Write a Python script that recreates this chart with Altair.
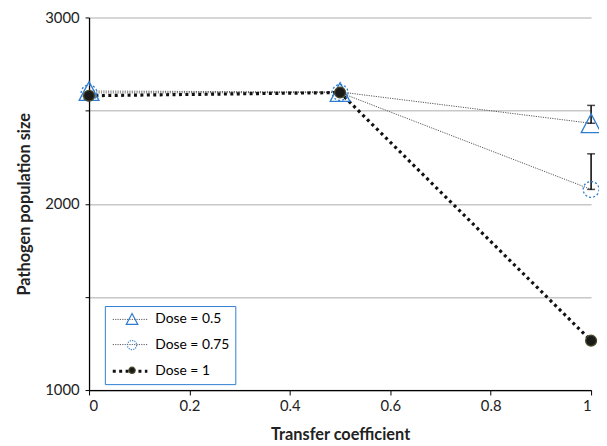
import math
import altair as alt
import pandas as pd

# ---- data ----
transfer = [0, 0.5, 1]
dose_labels = ["Dose = 0.5", "Dose = 0.75", "Dose = 1"]
dose_05 = [2605, 2600, 2432]
dose_075 = [2595, 2597, 2077]
dose_1 = [2580, 2597, 1265]
err_x = [1, 1]
err_dose = ["Dose = 0.5", "Dose = 0.75"]
err_mean = [2432, 2077]
err_upper = [2528, 2268]

y_ticks = [1000, 1500, 2000, 2500, 3000]
x_ticks = [0, 0.2, 0.4, 0.6, 0.8, 1]

marker_keys = ["m05", "m075", "m1"]

rows = []
for lab, mk, vals in zip(dose_labels, marker_keys, [dose_05, dose_075, dose_1]):
    for x, v in zip(transfer, vals):
        rows.append({"Transfer": x, "Pop": v, "Dose": lab, "Marker": mk})
df = pd.DataFrame(rows)
err_df = pd.DataFrame({"Transfer": err_x, "Dose": err_dose, "Mean": err_mean, "Upper": err_upper})


# ---- marker glyphs (custom symbol paths, unit = sqrt(size)/2) ----
def fmt(v):
    return f"{v:.3f}"


tri_k = 2.0
triangle = f"M0,{fmt(-0.95*tri_k)}L{fmt(tri_k)},{fmt(0.95*tri_k)}L{fmt(-tri_k)},{fmt(0.95*tri_k)}Z"

circ_k = 1.6
segs = []
n = 12
for k in range(n):
    a0 = 2 * math.pi * k / n
    a1 = a0 + math.pi / n
    segs.append(f"M{fmt(circ_k*math.cos(a0))},{fmt(circ_k*math.sin(a0))}"
                f"A{fmt(circ_k)},{fmt(circ_k)},0,0,1,{fmt(circ_k*math.cos(a1))},{fmt(circ_k*math.sin(a1))}")
dotted_circle = "".join(segs)

dot_k = 1.1
dot = f"M{fmt(dot_k)},0A{fmt(dot_k)},{fmt(dot_k)},0,1,1,{fmt(-dot_k)},0A{fmt(dot_k)},{fmt(dot_k)},0,1,1,{fmt(dot_k)},0Z"

FONT = "Lato"
BLUE = "#2f7dd1"

x_enc = alt.X("Transfer:Q", scale=alt.Scale(domain=[0, 1], nice=False),
              axis=alt.Axis(values=x_ticks, format="~g", title="Transfer coefficient", grid=False,
                            tickSize=5, labelPadding=4, titlePadding=13))
y_enc = alt.Y("Pop:Q", scale=alt.Scale(domain=[1000, 3000], nice=False),
              axis=alt.Axis(values=y_ticks, format="d",
                            labelExpr="datum.value % 1000 == 0 ? datum.label : ''",
                            title="Pathogen population size", grid=True, tickSize=4,
                            labelPadding=6, titlePadding=12))

lines = alt.Chart(df).mark_line(strokeCap="butt").encode(
    x=x_enc, y=y_enc,
    color=alt.Color("Dose:N", scale=alt.Scale(type="ordinal", domain=dose_labels,
                                              range=["#555555", "#555555", "#111111"]),
                    legend=alt.Legend(orient="none", legendX=16, legendY=292, title=None,
                                      symbolType="M-1,0H4", symbolSize=196, labelOffset=27,
                                      rowPadding=10.5, padding=6, strokeColor=BLUE,
                                      labelFont=FONT, labelFontSize=14, labelColor="#000000")),
    strokeDash=alt.StrokeDash("Dose:N", scale=alt.Scale(type="ordinal", domain=dose_labels,
                                                        range=[[1.2, 1.2], [1.2, 1.2], [3, 3.5]]),
                              legend=None),
    strokeWidth=alt.StrokeWidth("Dose:N", scale=alt.Scale(type="ordinal", domain=dose_labels,
                                                          range=[1, 1, 3.2]), legend=None),
)

err_rule = alt.Chart(err_df).mark_rule(color="#000000", strokeWidth=1.5).encode(
    x="Transfer:Q", y="Mean:Q", y2="Upper:Q")
cap_top = alt.Chart(err_df).mark_tick(orient="horizontal", color="#000000", thickness=1.5, size=8).encode(
    x="Transfer:Q", y="Upper:Q")
cap_bot = alt.Chart(err_df).mark_tick(orient="horizontal", color="#000000", thickness=1.5, size=8).encode(
    x="Transfer:Q", y="Mean:Q")

legend_b = alt.Legend(orient="none", legendX=36.5, legendY=298, title=None,
                      rowPadding=10.5, padding=0, labelExpr="''", labelFontSize=14,
                      symbolSize=34, symbolStrokeWidth=1.2)

points = alt.Chart(df).mark_point(opacity=1, strokeWidth=1.3, size=100).encode(
    x="Transfer:Q", y="Pop:Q",
    shape=alt.Shape("Marker:N", scale=alt.Scale(type="ordinal", domain=marker_keys,
                                                range=[triangle, dotted_circle, dot]),
                    legend=legend_b),
    fill=alt.Fill("Marker:N", scale=alt.Scale(type="ordinal", domain=marker_keys,
                                              range=["transparent", "transparent", "#1a1a1a"]),
                  legend=legend_b),
    stroke=alt.Stroke("Marker:N", scale=alt.Scale(type="ordinal", domain=marker_keys,
                                                  range=[BLUE, BLUE, "#4a4a2a"]),
                      legend=legend_b),
)

chart = alt.layer(lines, err_rule, cap_top, cap_bot, points).properties(
    width=508, height=377,
    autosize=alt.AutoSizeParams(type="none"),
    padding={"left": 82, "top": 7, "right": 8, "bottom": 52},
).configure_view(stroke=None).configure_axis(
    labelFont=FONT, labelFontSize=15, labelColor="#222222",
    titleFont=FONT, titleFontSize=16.5, titleFontWeight="bold", titleColor="#222222",
    domainColor="#000000", domainWidth=1.3, tickColor="#000000", tickWidth=1,
    gridColor="#c8c8c8", gridWidth=1.5,
)

chart.save("out.html", embed_options={"renderer": "svg", "actions": False})
